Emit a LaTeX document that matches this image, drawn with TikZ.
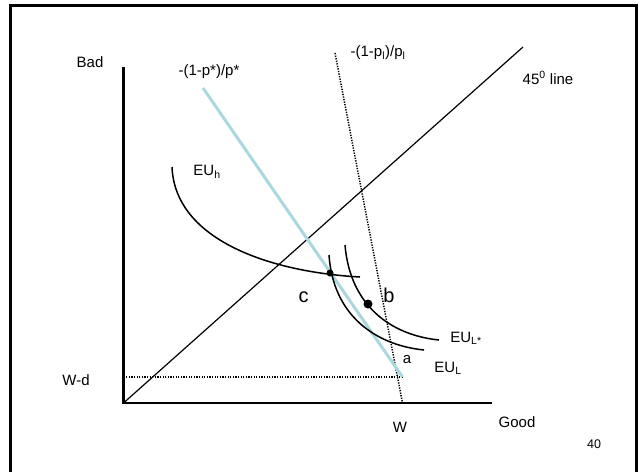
\documentclass[tikz,border=0pt]{standalone}
\usepackage{fontspec}
\setmainfont{Liberation Sans}
\definecolor{lightblue}{RGB}{170,216,222}
\begin{document}
\begin{tikzpicture}[x=1pt,y=-1pt,
  lbl/.style={font=\fontsize{15}{17}\selectfont, inner sep=0pt},
  biglbl/.style={font=\fontsize{20}{22}\selectfont, inner sep=0pt},
  smalllbl/.style={font=\fontsize{12.5}{14}\selectfont, inner sep=0pt},
  axisline/.style={line width=2.2pt},
  curve/.style={line width=1.5pt},
  dottedline/.style={line width=1.5pt, dash pattern=on 1.3pt off 1.3pt},
  dotpt/.style={circle, fill=black, inner sep=0pt}]
\useasboundingbox (0,0) rectangle (639,471);
% frame
\draw[line width=3pt] (10,490) -- (10,5.5) -- (636,5.5) -- (636,490);
% coordinates
\coordinate (O) at (123.5,403);
\coordinate (ytop) at (123.5,67);
\coordinate (xend) at (492,403);
\coordinate (fortyfive) at (523,47);
\coordinate (E) at (402.5,377);
\coordinate (Wax) at (402.5,403);
\coordinate (Wd) at (123.5,377);
\coordinate (btop) at (203,88);
\coordinate (dtop) at (335,53);
% axes
\draw[axisline] (ytop) -- (O) -- (xend);
% 45 line
\draw[line width=1.2pt] (O) -- (fortyfive);
% dotted lines
\draw[dottedline] (Wd) -- (E);
\draw[dottedline] (dtop) -- (Wax);
% blue line
\draw[lightblue, line width=3pt] (btop) -- (E);
% curves
\draw[curve] (172,167) .. controls (175,240) and (270,272) .. (360,277);
\draw[curve] (329,255) .. controls (333,315) and (375,345) .. (424,350);
\draw[curve] (345,245) .. controls (350,305) and (390,335) .. (439,340);
% points
\node[dotpt, minimum size=7pt] (c) at (330,273) {};
\node[dotpt, minimum size=9pt] (b) at (368,304) {};
% labels
\node[lbl] (bad) at (90,62) {Bad};
\node[lbl] (good) at (517,422) {Good};
\node[lbl] (w) at (400,427) {W};
\node[lbl] (wd) at (76,380) {W-d};
\node[lbl] (ff) at (548,78) {45\textsuperscript{0} line};
\node[lbl] (pstar) at (209,72) {-(1-p*)/p*};
\node[lbl] (pl) at (378,53) {-(1-p\textsubscript{l})/p\textsubscript{l}};
\node[lbl] (euh) at (207,172) {EU\textsubscript{h}};
\node[lbl] (eulstar) at (466,338) {EU\textsubscript{L*}};
\node[lbl] (eul) at (448,368) {EU\textsubscript{L}};
\node[lbl] (a) at (407,360) {a};
\node[biglbl] (clbl) at (303.5,297) {c};
\node[biglbl] (blbl) at (389,295) {b};
\node[smalllbl] (num) at (594,444.5) {40};
\end{tikzpicture}
\end{document}
